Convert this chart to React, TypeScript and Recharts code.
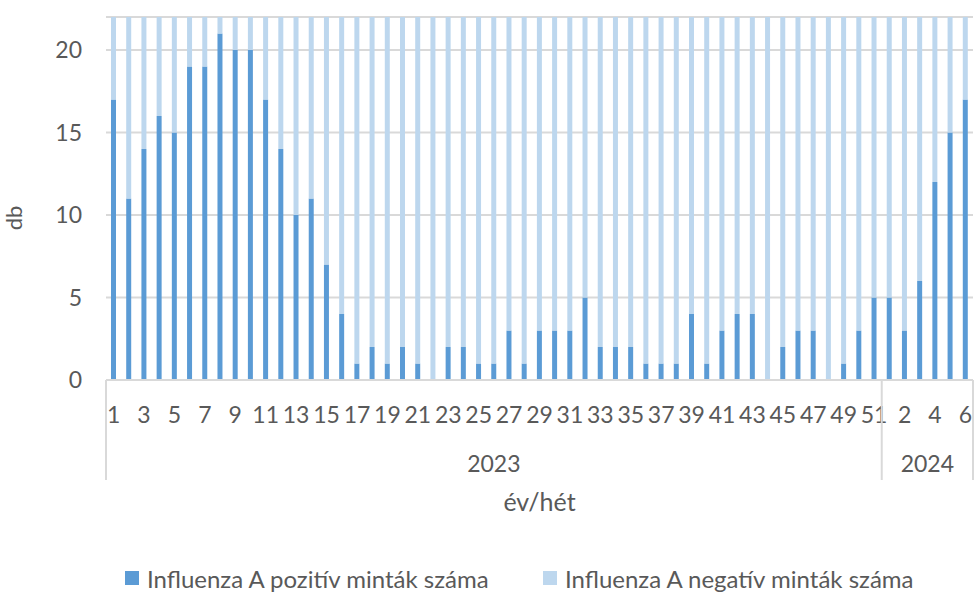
import { BarChart, Bar, XAxis, YAxis, CartesianGrid, Legend } from 'recharts'

// year-week categories (2023 has 51 weeks in the source, then 2024 weeks 1-6)
const categories = [
  '2023-1', '2023-2', '2023-3', '2023-4', '2023-5', '2023-6', '2023-7', '2023-8', '2023-9', '2023-10',
  '2023-11', '2023-12', '2023-13', '2023-14', '2023-15', '2023-16', '2023-17', '2023-18', '2023-19', '2023-20',
  '2023-21', '2023-22', '2023-23', '2023-24', '2023-25', '2023-26', '2023-27', '2023-28', '2023-29', '2023-30',
  '2023-31', '2023-32', '2023-33', '2023-34', '2023-35', '2023-36', '2023-37', '2023-38', '2023-39', '2023-40',
  '2023-41', '2023-42', '2023-43', '2023-44', '2023-45', '2023-46', '2023-47', '2023-48', '2023-49', '2023-50',
  '2023-51',
  '2024-1', '2024-2', '2024-3', '2024-4', '2024-5', '2024-6',
]

const positive = [
  17, 11, 14, 16, 15, 19, 19, 21, 20, 20,
  17, 14, 10, 11, 7, 4, 1, 2, 1, 2,
  1, 0, 2, 2, 1, 1, 3, 1, 3, 3,
  3, 5, 2, 2, 2, 1, 1, 1, 4, 1,
  3, 4, 4, 0, 2, 3, 3, 0, 1, 3,
  5,
  5, 3, 6, 12, 15, 17,
]

const negative = [
  5, 11, 8, 6, 7, 3, 3, 1, 2, 2,
  5, 8, 12, 11, 15, 18, 21, 20, 21, 20,
  21, 22, 20, 20, 21, 21, 19, 21, 19, 19,
  19, 17, 20, 20, 20, 21, 21, 21, 18, 21,
  19, 18, 18, 22, 20, 19, 19, 22, 21, 19,
  17,
  17, 19, 16, 10, 7, 5,
]

const yTicks = [0, 5, 10, 15, 20]
const seriesOrder = ['pos', 'neg']

const data = categories.map((c, i) => ({ cat: c, pos: positive[i], neg: negative[i] }))

const TEXT = '#595959'
const LINE = '#D9D9D9'
const W = 978
const H = 602
const LEGEND_X = [125, 543]

const yearOf = (c: string) => c.split('-')[0]
const weekOf = (c: string) => c.split('-')[1]

function WeekTick(props: any) {
  const { x, y, payload } = props
  const value = String(payload.value)
  const i = categories.indexOf(value)
  const half = payload.offset ?? (W - 5 - 106) / categories.length / 2
  const year = yearOf(value)
  const isFirstOfYear = i === 0 || yearOf(categories[i - 1]) !== year
  const isLast = i === categories.length - 1
  const count = categories.filter((c) => yearOf(c) === year).length
  const left = x - half
  return (
    <g>
      {i % 2 === 0 && (
        <text x={x} y={y + 43} textAnchor="middle" fill={TEXT} fontSize={23}>
          {weekOf(value)}
        </text>
      )}
      {isFirstOfYear && (
        <>
          <line x1={left} x2={left} y1={y} y2={y + 100} stroke={LINE} strokeWidth={2} />
          <text x={left + count * half} y={y + 92} textAnchor="middle" fill={TEXT} fontSize={23}>
            {year}
          </text>
        </>
      )}
      {isLast && <line x1={x + half} x2={x + half} y1={y} y2={y + 100} stroke={LINE} strokeWidth={2} />}
    </g>
  )
}

function renderLegend(props: any) {
  const items = [...(props.payload ?? [])].sort(
    (a: any, b: any) => seriesOrder.indexOf(a.dataKey) - seriesOrder.indexOf(b.dataKey)
  )
  return (
    <div style={{ position: 'relative', height: 30, width: W }}>
      {items.map((item: any, i: number) => (
        <div
          key={item.value}
          style={{ position: 'absolute', left: LEGEND_X[i], top: 0, height: 30, display: 'flex', alignItems: 'center', whiteSpace: 'nowrap' }}
        >
          <span style={{ display: 'inline-block', width: 14, height: 14, background: item.color, marginRight: 8 }} />
          <span style={{ color: TEXT, fontSize: 24 }}>{item.value}</span>
        </div>
      ))}
    </div>
  )
}

export default function App() {
  return (
    <div style={{ position: 'absolute', left: 0, top: 0, width: W, height: H, background: '#fff', fontFamily: 'Lato, sans-serif' }}>
      <BarChart width={W} height={H} data={data} margin={{ top: 17, right: 5, bottom: 0, left: 0 }}>
        <CartesianGrid vertical={false} stroke={LINE} strokeWidth={2} />
        <XAxis
          dataKey="cat"
          height={222}
          interval={0}
          tickLine={false}
          tickSize={0}
          tickMargin={0}
          axisLine={{ stroke: LINE, strokeWidth: 2 }}
          tick={<WeekTick />}
          label={{
            content: (p: any) => (
              <text x={p.viewBox.x + p.viewBox.width / 2} y={p.viewBox.y + 131} textAnchor="middle" fill={TEXT} fontSize={25}>
                év/hét
              </text>
            ),
          }}
        />
        <YAxis
          width={106}
          domain={[0, 22]}
          ticks={yTicks}
          axisLine={false}
          tickLine={false}
          tickSize={0}
          tickMargin={24}
          tick={{ fill: TEXT, fontSize: 23 }}
          label={{
            content: () => (
              <text transform="translate(22, 218) rotate(-90)" textAnchor="middle" fill={TEXT} fontSize={22}>
                db
              </text>
            ),
          }}
        />
        <Legend
          layout="horizontal"
          verticalAlign="middle"
          align="center"
          wrapperStyle={{ top: 563, left: 0, width: W }}
          content={renderLegend}
        />
        <Bar dataKey="pos" name="Influenza A pozitív minták száma" stackId="a" fill="#5B9BD5" barSize={5} isAnimationActive={false} />
        <Bar dataKey="neg" name="Influenza A negatív minták száma" stackId="a" fill="#BDD7EE" barSize={5} isAnimationActive={false} />
      </BarChart>
    </div>
  )
}
